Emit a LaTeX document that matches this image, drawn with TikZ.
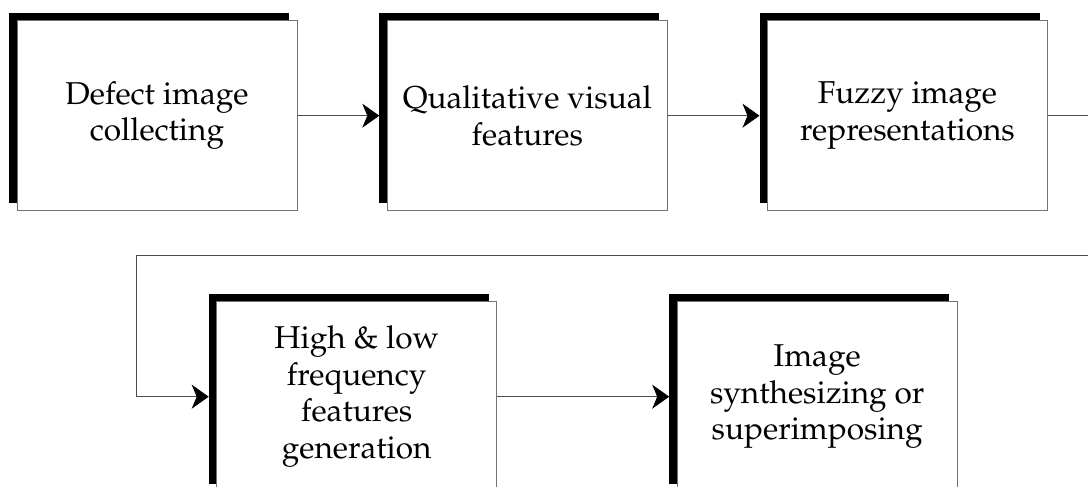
\documentclass[tikz,border=0pt]{standalone}
\usepackage[T1]{fontenc}
\usepackage{mathpazo}
\usetikzlibrary{shadows,arrows.meta}
\begin{document}
\begin{tikzpicture}[
		x=1pt, y=-1pt,
		stepbox/.style={rectangle, draw=black!55, fill=white, line width=0.9pt,
			minimum width=280pt, minimum height=190pt, inner sep=0pt, outer sep=0pt,
			align=center, font=\fontsize{31.6}{36.6}\selectfont,
			general shadow={fill=black, shadow xshift=-8pt, shadow yshift=8pt}},
		flow/.style={draw=black!70, line width=0.9pt, shorten >=8pt,
			-{Stealth[length=17pt, width=24pt, inset=5pt, black]}},
		]
		\clip (0,0) rectangle (1088,487);
		\node[stepbox] (collect) at (157.0, 115.7) {Defect image\\collecting};
		\node[stepbox] (visual) at (527.3, 115.7) {Qualitative visual\\features};
		\node[stepbox] (fuzzy) at (907.5, 115.7) {Fuzzy image\\representations};
		\node[stepbox] (freq) at (356.7, 396.7) {High \& low\\frequency\\features\\generation};
		\node[stepbox] (synth) at (817.2, 396.7) {Image\\synthesizing or\\superimposing};
		\coordinate (loopR) at (1110, 255.7);
		\coordinate (loopL) at (136.7, 255.7);
		\path[flow] (collect) -- (visual);
		\path[flow] (visual) -- (fuzzy);
		\path[flow] (fuzzy.east) -| (loopR) -- (loopL) |- (freq.west);
		\path[flow] (freq) -- (synth);
	\end{tikzpicture}
\end{document}
